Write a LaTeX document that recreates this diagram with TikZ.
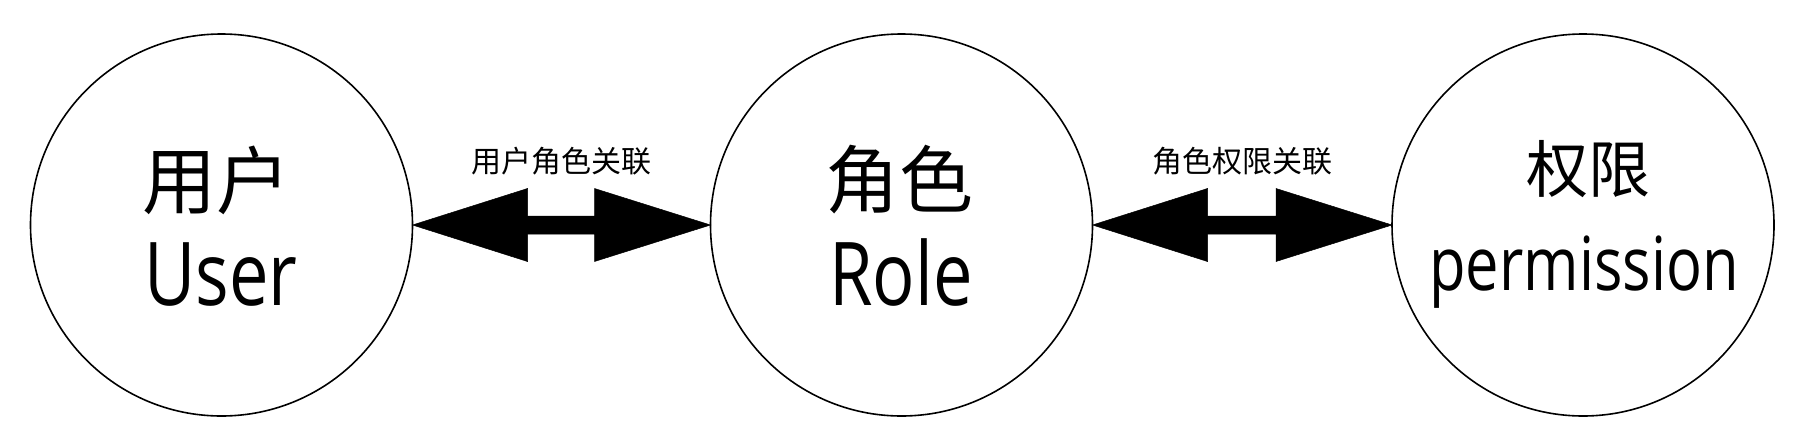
\documentclass[tikz,border=0pt]{standalone}
\usepackage{fontspec}
\setmainfont{Open Sans}[FakeStretch=0.8]
\newfontfamily\cjk{Noto Sans CJK SC}
\usetikzlibrary{calc}
\tikzset{
  ent/.style={circle, draw, line width=1.6pt, minimum size=382pt, inner sep=0pt, outer sep=0pt},
  cjkbig/.style={font=\cjk\fontsize{74}{80}\selectfont, inner sep=0pt},
  cjkmid/.style={font=\cjk\fontsize{62}{68}\selectfont, inner sep=0pt},
  latin/.style={font=\fontsize{88}{96}\selectfont, inner sep=0pt, anchor=base},
  latinmid/.style={font=\fontsize{74.5}{80}\selectfont, inner sep=0pt, anchor=base},
  lab/.style={font=\cjk\fontsize{30}{34}\selectfont, inner sep=0pt},
  bigarrow/.style={fill=black, draw=black, line width=0.5pt, line join=miter}
}
\newcommand{\dblarrow}[2]{%
  \fill[bigarrow] (#1) -- ++(115,-36.5) -- ++(0,27.5) -- ($(#2)+(-116,-9)$) -- ++(0,-27.5) -- (#2)
    -- ++(-116,36.5) -- ++(0,-27.5) -- ($(#1)+(115,9)$) -- ++(0,27.5) -- cycle;}
\begin{document}
\begin{tikzpicture}[x=1pt,y=-1pt]
\useasboundingbox[fill=white] (0,0) rectangle (1806,442);
\node[ent] (u) at (221.5,225) {};
\node[ent] (r) at (901.5,225) {};
\node[ent] (p) at (1583,225) {};
\node[cjkbig] (ucn) at (216,180) {用户};
\node[latin] (uen) at (221,305) {User};
\node[cjkbig] (rcn) at (899,180) {角色};
\node[latin] (ren) at (901,305) {Role};
\node[cjkmid] (pcn) at (1588,169) {权限};
\node[latinmid] (pen) at (1584,290) {permission};
\dblarrow{u.east}{r.west}
\dblarrow{r.east}{p.west}
\node[lab] (l1) at ($(u.east)!0.5!(r.west)+(0,-64)$) {用户角色关联};
\node[lab] (l2) at ($(r.east)!0.5!(p.west)+(0,-64)$) {角色权限关联};
\end{tikzpicture}
\end{document}
